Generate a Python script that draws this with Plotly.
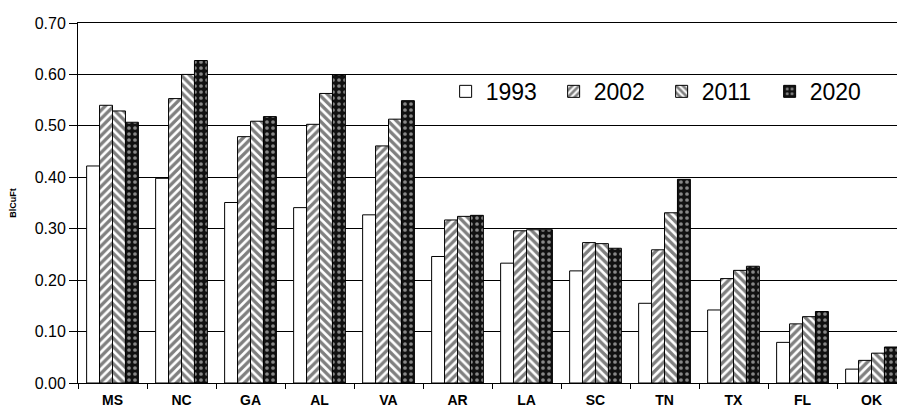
import plotly.graph_objects as go

STATES = ['MS', 'NC', 'GA', 'AL', 'VA', 'AR', 'LA', 'SC', 'TN', 'TX', 'FL', 'OK']
YEARS = ['1993', '2002', '2011', '2020']

V_1993 = [0.422, 0.398, 0.351, 0.341, 0.327, 0.246, 0.233, 0.218, 0.155, 0.142, 0.079, 0.027]
V_2002 = [0.540, 0.553, 0.479, 0.503, 0.461, 0.317, 0.296, 0.273, 0.259, 0.203, 0.115, 0.044]
V_2011 = [0.529, 0.600, 0.509, 0.563, 0.513, 0.324, 0.298, 0.271, 0.331, 0.219, 0.129, 0.058]
V_2020 = [0.507, 0.627, 0.518, 0.599, 0.549, 0.326, 0.298, 0.262, 0.396, 0.227, 0.139, 0.070]

Y_TICKS = [0.0, 0.1, 0.2, 0.3, 0.4, 0.5, 0.6, 0.7]

# fill style per year: (shape, fg, bg, solidity)
STYLES = {
    '1993': ('', 'black', 'white', 0.5),
    '2002': ('/', 'black', 'white', 0.55),
    '2011': ('\\', 'black', 'white', 0.55),
    '2020': ('.', 'white', '#111111', 0.3),
}

FONT = "Arial, Liberation Sans, sans-serif"

fig = go.Figure()
for year, vals in zip(YEARS, [V_1993, V_2002, V_2011, V_2020]):
    shape, fg, bg, sol = STYLES[year]
    fig.add_trace(go.Bar(
        x=STATES, y=vals, name=year,
        marker=dict(color=bg, line=dict(color='black', width=1),
                    pattern=dict(shape=shape, fgcolor=fg, bgcolor=bg,
                                 size=6, solidity=sol)),
    ))

fig.update_traces(hoverinfo='skip')

# white box behind the legend that hides the gridlines
fig.add_shape(type='rect', xref='paper', yref='y',
              x0=0.453, x1=0.975, y0=0.48, y1=0.62,
              fillcolor='white', line=dict(width=0), layer='between')

fig.update_layout(
    width=905, height=411,
    margin={'l': 70, 'r': 7, 't': 15, 'b': 36},
    paper_bgcolor='white', plot_bgcolor='white',
    barmode='group', bargap=0.25, bargroupgap=0,
    font=dict(family=FONT, color='black'),
    legend=dict(orientation='h', x=0.444, xanchor='left',
                y=0.81, yanchor='middle',
                bgcolor='rgba(0,0,0,0)',
                font=dict(size=23, family=FONT),
                entrywidth=63, itemwidth=30),
    showlegend=True,
)
fig.update_xaxes(showline=True, linecolor='black', linewidth=1, mirror=True,
                 ticks='outside', tickson='boundaries', ticklen=5,
                 tickcolor='black', showgrid=False, ticklabelstandoff=4,
                 tickfont=dict(size=14, family=FONT, weight='bold'))
fig.update_yaxes(range=[0, 0.7], tickvals=Y_TICKS, tickformat='.2f',
                 showline=True, linecolor='black', linewidth=1, mirror=True,
                 ticks='outside', ticklen=8, tickcolor='black',
                 showgrid=True, gridcolor='black', gridwidth=1,
                 zeroline=False, automargin=False,
                 tickfont=dict(size=16, family=FONT),
                 title=dict(text='BlCuFt', standoff=22,
                            font=dict(size=9, family=FONT, weight='bold')))

fig.write_html("out.html")
